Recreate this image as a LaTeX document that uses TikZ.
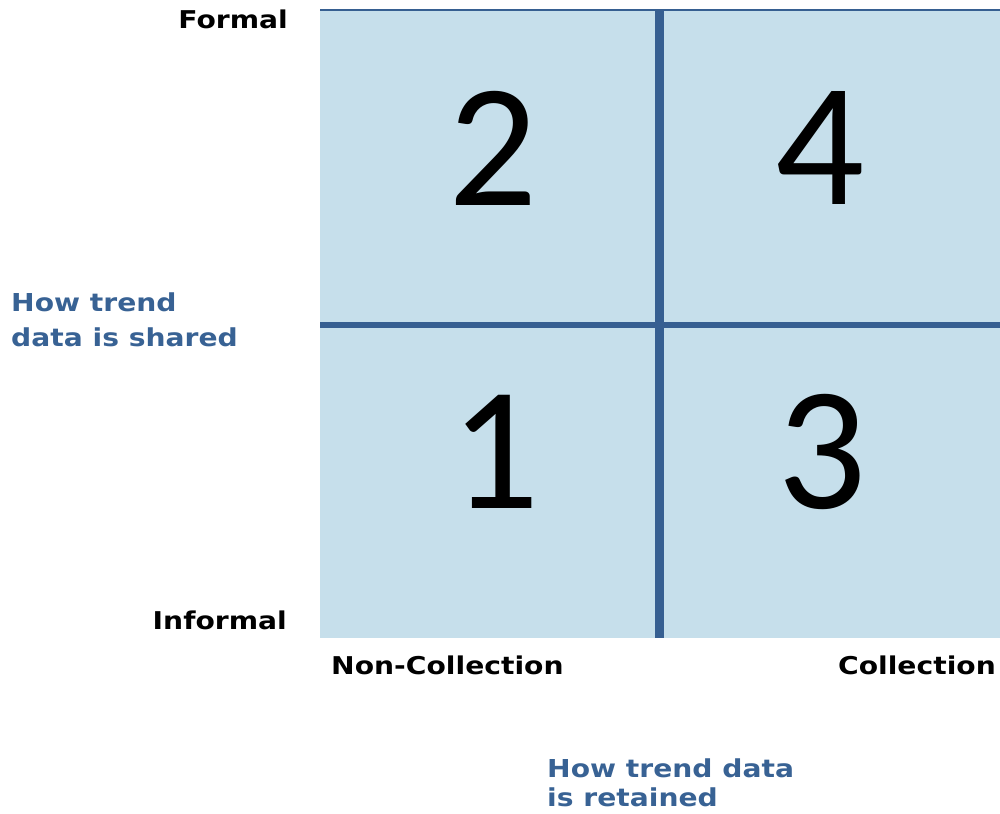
\documentclass[tikz,border=0pt]{standalone}
\usepackage{fontspec}
\usepackage{xcolor}
\setmainfont{DejaVu Sans}
\newfontfamily\axisfont[FakeStretch=1.15]{DejaVu Sans}
\newfontfamily\titlefont[FakeStretch=1.14]{DejaVu Sans}
\newfontfamily\numfont{Carlito}

\definecolor{cellblue}{RGB}{198,223,235}
\definecolor{gridblue}{RGB}{54,95,145}
\definecolor{labelblue}{RGB}{56,98,148}

\tikzset{
  quadnum/.style={inner sep=0pt, font=\numfont\fontsize{176}{176}\selectfont},
  axislabel/.style={inner sep=0pt, font=\axisfont\bfseries\fontsize{24.5}{27}\selectfont},
  dimlabel/.style={inner sep=0pt, align=left, text=labelblue,
    font=\titlefont\bfseries\fontsize{24.7}{35}\selectfont}
}

\begin{document}
\begin{tikzpicture}[x=1pt, y=-1pt]
    \useasboundingbox (0,0) rectangle (1000,813);

    % Quadrant field
    \fill[cellblue] (320,10) rectangle (1000,637.5);
    \draw[gridblue, line width=1.5pt] (320,10) -- (1000,10);

    % Dividers
    \draw[gridblue, line width=6pt] (320,325) -- (1000,325);
    \draw[gridblue, line width=9pt] (659.5,10) -- (659.5,637.5);

    % Quadrant numbers
    \node[quadnum] (q2) at (493,148) {2};
    \node[quadnum] (q4) at (820,148) {4};
    \node[quadnum] (q1) at (495,452) {1};
    \node[quadnum] (q3) at (822,452) {3};

    % Vertical axis
    \node[axislabel, anchor=base east] (formal) at (288,29) {Formal};
    \node[axislabel, anchor=base east] (informal) at (287,629) {Informal};
    \node[dimlabel, anchor=north west] (shared) at (11,293) {How trend\\data is shared};

    % Horizontal axis
    \node[axislabel, anchor=base west] (noncoll) at (331,674) {Non-Collection};
    \node[axislabel, anchor=base east] (coll) at (996,674) {Collection};
    \node[dimlabel, anchor=north west, font=\titlefont\bfseries\fontsize{24.7}{29}\selectfont] (retained) at (547,759) {How trend data\\is retained};
\end{tikzpicture}
\end{document}
